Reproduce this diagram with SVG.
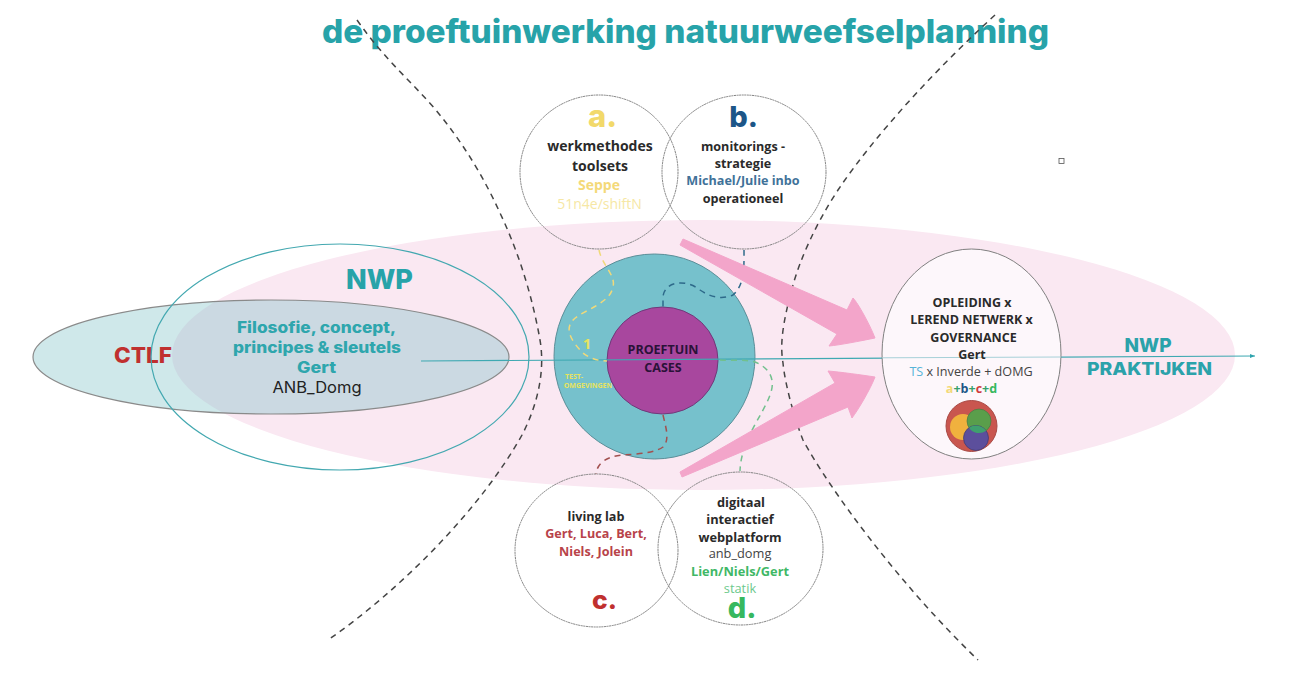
<svg xmlns="http://www.w3.org/2000/svg" width="1298" height="678" viewBox="0 0 1298 678">
<defs>
<marker id="tip" markerWidth="6" markerHeight="6" refX="5" refY="3" orient="auto" markerUnits="userSpaceOnUse"><path d="M0 1 L5 3 L0 5 Z" fill="#2ea3ad"/></marker>
<clipPath id="ctlf-clip"><ellipse cx="271" cy="357" rx="238" ry="57"/></clipPath>
</defs>
<style>
text{text-anchor:middle;font-family:"Open Sans","Noto Sans",sans-serif}
.b{font-weight:700}
.h{font-family:Inter,"Liberation Sans",sans-serif;font-weight:800}
.i{font-family:Inter,"Liberation Sans",sans-serif;font-weight:400}
.ring{fill:none;stroke:#808080;stroke-width:1;stroke-dasharray:2 .6}
.dash{fill:none;stroke-width:1.5;stroke-dasharray:6 5}
.k{fill:#2a2a2a}
.t14{font-size:14px}
.t12{font-size:12.6px}
.o{font-size:12.5px}
</style>
<rect width="1298" height="678" fill="#fff"/>
<ellipse id="field" cx="703.500" cy="355" rx="531.500" ry="135" fill="#fae8f2"/>
<text class="h" x="685.500" y="43" font-size="32" fill="#27a3a9" textLength="727" lengthAdjust="spacingAndGlyphs">de proeftuinwerking natuurweefselplanning</text>
<g id="ctlf">
<ellipse cx="271" cy="357" rx="238" ry="57" fill="#cfe8ea"/>
<ellipse cx="703.500" cy="355" rx="531.500" ry="135" fill="#cbd9e2" clip-path="url(#ctlf-clip)"/>
<ellipse cx="271" cy="357" rx="238" ry="57" fill="none" stroke="#8a8a8a" stroke-width="1.2"/>
<text class="h" x="143" y="363" font-size="21.500" fill="#c0302f" textLength="58" lengthAdjust="spacingAndGlyphs">CTLF</text>
</g>
<g id="nwp">
<ellipse cx="340" cy="357" rx="189" ry="113" fill="none" stroke="#43a8b0" stroke-width="1.2"/>
<text class="h" x="379.500" y="289" font-size="27" fill="#27a3a9" textLength="67" lengthAdjust="spacingAndGlyphs">NWP</text>
<text class="h" x="316.500" y="333" font-size="15.500" fill="#2ea6ad" textLength="159" lengthAdjust="spacingAndGlyphs">Filosofie, concept,</text>
<text class="h" x="317" y="353" font-size="15.500" fill="#2ea6ad" textLength="168" lengthAdjust="spacingAndGlyphs">principes &amp; sleutels</text>
<text class="h" x="316.500" y="373" font-size="15.500" fill="#2ea6ad" textLength="39" lengthAdjust="spacingAndGlyphs">Gert</text>
<text class="i" x="317" y="393" font-size="16.500" fill="#222">ANB_Domg</text>
</g>
<g id="connectors">
<path class="dash" stroke="#444" d="M357 20 C385 60 410 80 435 109 C465 145 485 180 500 213 C520 255 533 300 540 340 C546 375 535 410 522 435 C480 510 400 590 328 640"/>
<path class="dash" stroke="#444" d="M995 15 C935 70 875 135 838 190 C815 225 800 260 793 285 C782 325 780 345 783 363 C785 385 795 420 803 440 C830 490 900 585 978 660"/>
</g>
<g id="test-omgevingen">
<ellipse cx="654.500" cy="356.500" rx="100.500" ry="102.500" fill="#76c1cc" stroke="#5a8e98" stroke-width="1"/>
<text class="b" x="587" y="349" font-size="15" fill="#e6e35e">1</text>
<text class="b" x="574" y="379" font-size="7" fill="#e6e35e">TEST-</text>
<text class="b" x="588" y="388" font-size="7" fill="#e6e35e">OMGEVINGEN</text>
</g>
<g id="proeftuin">
<ellipse cx="662.500" cy="360.500" rx="55.500" ry="53.500" fill="#a8479e" stroke="#6f3a7a" stroke-width="1"/>
<text class="b" x="663" y="354" font-size="12.500" fill="#2a1238">PROEFTUIN</text>
<text class="b" x="663" y="372" font-size="12.500" fill="#2a1238">CASES</text>
</g>
<g id="lines">
<path d="M421 361 L1255 356" fill="none" stroke="#3fa9b2" stroke-width="1.200" marker-end="url(#tip)"/>
<path class="dash" stroke="#f0d97a" d="M599 250 C602 265 616 275 613 287 C610 302 590 308 578 316 C562 326 570 340 583 353 C590 359 600 361 607 361"/>
<path class="dash" stroke="#2e6a8a" d="M744 250 C744 265 745 285 733 295 C722 300 710 297 700 290 C685 278 664 282 663 297 L663 307"/>
<path class="dash" stroke="#a2504f" d="M663 415 C666 428 670 440 663 447 C650 456 625 453 612 457 C600 461 597 467 596 474"/>
<path class="dash" stroke="#72c08e" d="M720 360 C730 361 745 359 755 362 C770 368 776 380 770 395 C763 415 741 440 740 471"/>
</g>
<g id="arrows">
<path d="M683 239 L847 310 L853 298 C858 303 870 325 875 338 C860 341 840 345 829 346 L837 334 L680 245 Z" fill="#f3a5ca" stroke="#f3a5ca" stroke-linejoin="round"/>
<path d="M680 472 L835 383 L828 371 C840 372 862 375 875 377 C870 390 858 410 852 418 L848 407 L682 477 Z" fill="#f3a5ca" stroke="#f3a5ca" stroke-linejoin="round"/>
</g>
<g id="a">
<ellipse class="ring" cx="599" cy="172" rx="79" ry="77"/>
<text class="h" x="602.500" y="127" font-size="31" fill="#f2d96a">a.</text>
<text class="b k t14" x="600" y="151">werkmethodes</text>
<text class="b k t14" x="600" y="171">toolsets</text>
<text class="b t14" x="599" y="190" fill="#f4d979">Seppe</text>
<text class="t14" x="599.500" y="209" fill="#f6e7a4">51n4e/shiftN</text>
</g>
<g id="b">
<ellipse class="ring" cx="744" cy="172" rx="82" ry="77"/>
<text class="h" x="743.500" y="127" font-size="29" fill="#1c5688">b.</text>
<text class="b k t12" x="743" y="151">monitorings -</text>
<text class="b k t12" x="743" y="168">strategie</text>
<text class="b t12" x="743" y="185" fill="#3f7299">Michael/Julie inbo</text>
<text class="b k t12" x="743" y="203">operationeel</text>
</g>
<g id="c">
<ellipse class="ring" cx="596.500" cy="550.500" rx="81.500" ry="76.500"/>
<text class="b k t12" x="596" y="521">living lab</text>
<text class="b t12" x="596" y="538" fill="#b8434a">Gert, Luca, Bert,</text>
<text class="b t12" x="596" y="556" fill="#b8434a">Niels, Jolein</text>
<text class="h" x="604.500" y="609" font-size="26" fill="#c0302f" textLength="25" lengthAdjust="spacingAndGlyphs">c.</text>
</g>
<g id="d">
<ellipse class="ring" cx="740.500" cy="548.500" rx="82.500" ry="76.500"/>
<text class="b k" x="741" y="507" font-size="12.800">digitaal</text>
<text class="b k" x="740" y="524" font-size="12.800">interactief</text>
<text class="b k" x="740" y="542" font-size="12.800">webplatform</text>
<text x="740" y="558" font-size="12.800" fill="#444">anb_domg</text>
<text class="b" x="740" y="576" font-size="12.800" fill="#3fb866">Lien/Niels/Gert</text>
<text x="740" y="593" font-size="12.800" fill="#6cc98c">statik</text>
<text class="h" x="742" y="618" font-size="29" fill="#37b85f">d.</text>
</g>
<g id="opleiding">
<ellipse cx="971.500" cy="354" rx="89.500" ry="105" fill="#fdf7fb" stroke="#808080" stroke-width="1"/>
<path d="M882 357.800 L1061 357" stroke="#a7d0d8" stroke-width="1"/>
<text class="b k o" x="972" y="307">OPLEIDING x</text>
<text class="b k o" x="971.500" y="324">LEREND NETWERK x</text>
<text class="b k o" x="973.500" y="342">GOVERNANCE</text>
<text class="b k o" x="972" y="359">Gert</text>
<text x="971" y="376" font-size="12.600" fill="#444"><tspan fill="#58b4d8">TS</tspan> x Inverde + dOMG</text>
<text class="b" x="971.500" y="393" font-size="12.500"><tspan fill="#f4d979">a</tspan><tspan fill="#37a06a">+</tspan><tspan fill="#1c5688">b</tspan><tspan fill="#37a06a">+</tspan><tspan fill="#d03a3a">c</tspan><tspan fill="#37a06a">+</tspan><tspan fill="#37b85f">d</tspan></text>
<circle cx="971.500" cy="426" r="25.500" fill="#c9564f" stroke="#a94a45"/>
<circle cx="963" cy="427" r="13" fill="#f0b13e"/>
<circle cx="979" cy="421" r="12" fill="#5a9e4b" stroke="#4b7a45" stroke-width=".7"/>
<circle cx="976" cy="438" r="12.500" fill="#5c4f9c" stroke="#3c3a70" stroke-width=".7"/>
<path d="M969 427.700 A12 12 0 0 0 986.200 430.700 A12.500 12.500 0 0 0 969 427.700Z" fill="#3fa06e"/>
</g>
<g id="praktijken">
<text class="h" x="1148" y="352" font-size="19" fill="#2ba2aa" textLength="47" lengthAdjust="spacingAndGlyphs">NWP</text>
<text class="h" x="1149.500" y="375" font-size="18" fill="#2ba2aa" textLength="125" lengthAdjust="spacingAndGlyphs">PRAKTIJKEN</text>
</g>
<rect id="handle" x="1059" y="158.500" width="5" height="5" fill="#fff" stroke="#555" stroke-width=".8"/>
</svg>
